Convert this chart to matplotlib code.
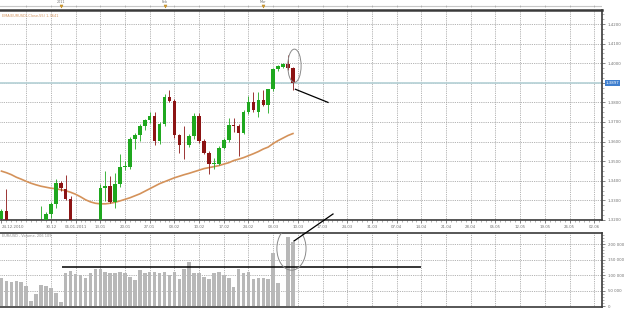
import matplotlib
matplotlib.use("Agg")
import matplotlib.pyplot as plt
from matplotlib.patches import Ellipse
from matplotlib.lines import Line2D
import matplotlib.transforms as mtransforms
import numpy as np

# ---------------- data ----------------
opens = [1.3205, 1.3246, 1.3170, 1.3130, 1.3150, 1.3120, 1.3100, 1.3140, 1.3120, 1.3150,
         1.3231, 1.3282, 1.3390, 1.3359, 1.3308, 1.3170, 1.3080, 1.3000, 1.2950, 1.2960,
         1.3050, 1.3364, 1.3374, 1.3292, 1.3385, 1.3472, 1.3472, 1.3615, 1.3636, 1.3677,
         1.3708, 1.3733, 1.3605, 1.3692, 1.3826, 1.3805, 1.3631, 1.3585, 1.3585, 1.3626,
         1.3733, 1.3605, 1.3544, 1.3487, 1.3487, 1.3569, 1.3610, 1.3687, 1.3682, 1.3646,
         1.3749, 1.3800, 1.3749, 1.3810, 1.3785, 1.3867, 1.3969, 1.3980, 1.3995, 1.3974]
highs = [1.3256, 1.3359, 1.3190, 1.3180, 1.3185, 1.3170, 1.3160, 1.3185, 1.3272, 1.3240,
         1.3290, 1.3410, 1.3400, 1.3431, 1.3320, 1.3190, 1.3110, 1.3030, 1.2990, 1.3080,
         1.3385, 1.3451, 1.3426, 1.3441, 1.3538, 1.3500, 1.3625, 1.3645, 1.3692, 1.3715,
         1.3749, 1.3749, 1.3700, 1.3841, 1.3862, 1.3815, 1.3640, 1.3682, 1.3640, 1.3745,
         1.3745, 1.3615, 1.3550, 1.3518, 1.3575, 1.3620, 1.3718, 1.3718, 1.3692, 1.3760,
         1.3831, 1.3851, 1.3851, 1.3862, 1.3870, 1.3975, 1.3990, 1.4000, 1.4041, 1.3980]
lows = [1.3170, 1.3150, 1.3110, 1.3080, 1.3100, 1.3070, 1.3060, 1.3090, 1.3080, 1.3120,
        1.3210, 1.3262, 1.3350, 1.3300, 1.3140, 1.3050, 1.2980, 1.2900, 1.2870, 1.2930,
        1.3020, 1.3297, 1.3285, 1.3262, 1.3370, 1.3455, 1.3460, 1.3564, 1.3605, 1.3660,
        1.3695, 1.3585, 1.3590, 1.3680, 1.3800, 1.3620, 1.3544, 1.3513, 1.3570, 1.3615,
        1.3595, 1.3535, 1.3436, 1.3462, 1.3480, 1.3560, 1.3600, 1.3651, 1.3528, 1.3640,
        1.3740, 1.3750, 1.3723, 1.3780, 1.3744, 1.3860, 1.3960, 1.3975, 1.3965, 1.3865]
closes = [1.3246, 1.3170, 1.3130, 1.3150, 1.3120, 1.3100, 1.3140, 1.3120, 1.3150, 1.3231,
          1.3282, 1.3390, 1.3364, 1.3308, 1.3170, 1.3080, 1.3000, 1.2950, 1.2960, 1.3050,
          1.3364, 1.3374, 1.3292, 1.3385, 1.3472, 1.3477, 1.3615, 1.3636, 1.3677, 1.3708,
          1.3733, 1.3605, 1.3692, 1.3826, 1.3805, 1.3631, 1.3585, 1.3580, 1.3626, 1.3733,
          1.3605, 1.3544, 1.3487, 1.3490, 1.3569, 1.3610, 1.3687, 1.3682, 1.3646, 1.3749,
          1.3800, 1.3759, 1.3810, 1.3785, 1.3867, 1.3969, 1.3985, 1.3995, 1.3974, 1.3897]
ema55 = [1.3449, 1.3441, 1.3431, 1.3418, 1.3408, 1.3397, 1.3387, 1.3379, 1.3372, 1.3367,
         1.3362, 1.3359, 1.3354, 1.3349, 1.3341, 1.3331, 1.3318, 1.3303, 1.3292, 1.3285,
         1.3282, 1.3282, 1.3285, 1.3290, 1.3297, 1.3305, 1.3313, 1.3323, 1.3333, 1.3346,
         1.3359, 1.3372, 1.3385, 1.3395, 1.3405, 1.3415, 1.3423, 1.3431, 1.3438, 1.3446,
         1.3454, 1.3462, 1.3467, 1.3472, 1.3477, 1.3485, 1.3492, 1.3503, 1.3510, 1.3518,
         1.3528, 1.3538, 1.3549, 1.3562, 1.3572, 1.3590, 1.3605, 1.3618, 1.3631, 1.3641]
volume = [90000, 81000, 77000, 81000, 77000, 65000, 16000, 39000, 68000, 65000,
          58000, 42000, 13000, 106000, 113000, 103000, 100000, 90000, 106000, 119000,
          119000, 110000, 106000, 106000, 110000, 106000, 94000, 84000, 116000, 106000,
          110000, 110000, 106000, 110000, 100000, 110000, 87000, 119000, 142000, 106000,
          106000, 94000, 87000, 106000, 110000, 100000, 90000, 61000, 119000, 106000,
          110000, 87000, 90000, 90000, 87000, 171000, 74000, 0, 223000, 206000]

date_tick_idx = [0, 10, 15, 20, 25, 30, 35, 40, 45, 50, 55, 60, 65, 70, 75, 80,
                 85, 90, 95, 100, 105, 110, 115, 120]
date_tick_labels = ["24.12.2010", "30.12", "06.01.2011", "13.01", "20.01", "27.01", "03.02",
                    "10.02", "17.02", "24.02", "03.03", "10.03", "17.03", "24.03", "31.03",
                    "07.04", "14.04", "21.04", "28.04", "05.05", "12.05", "19.05", "26.05", "02.06"]
period_idx = [12, 33, 53]
period_labels = ["2011", "Feb", "Mar"]
price_ticks = [1.32, 1.33, 1.34, 1.35, 1.36, 1.37, 1.38, 1.39, 1.40, 1.41, 1.42]
vol_ticks = [0, 50000, 100000, 150000, 200000]
last_price = 1.3897
vol_level = 126000
ema_label = "EMA(EURUSD),Close,55) 1,3641"
vol_label = "EUR/USD - Volume, 206 109"

# ---------------- styling ----------------
GREEN = "#1fa81f"
RED = "#8c1414"
GRID = "#9a9a9a"
TXT = "#707070"
FS = 2.8
W, H = 625, 310

fig = plt.figure(figsize=(W / 100, H / 100), dpi=100)
fig.patch.set_facecolor("white")

def fx(px):
    return px / W

def fy(py):
    return 1 - py / H

ax = fig.add_axes([0, fy(220), fx(602), fy(10) - fy(220)])
axv = fig.add_axes([0, fy(307), fx(602), fy(233) - fy(307)])
axt = fig.add_axes([0, fy(10), fx(602), 1 - fy(10)])

n = len(opens)
x = np.arange(n)
xlim = (-0.3, 121.56)

# grid
vgrid = np.arange(5, 122, 5)
for a in (ax, axv):
    a.set_xlim(*xlim)
    for v in vgrid:
        a.axvline(v, color=GRID, lw=0.6, ls=(0, (1, 1.2)), zorder=0)

for p in price_ticks:
    ax.axhline(p, color=GRID, lw=0.6, ls=(0, (1, 1.2)), zorder=0)
for v in vol_ticks[1:]:
    axv.axhline(v, color=GRID, lw=0.6, ls=(0, (1, 1.2)), zorder=0)

# current price line
ax.axhline(last_price, color="#b9d3d8", lw=1.3, zorder=0.5)

# candles
o = np.array(opens); c = np.array(closes); hi = np.array(highs); lo = np.array(lows)
up = c >= o
cols = np.where(up, GREEN, RED)
ax.vlines(x, lo, hi, colors=cols, lw=0.6, zorder=2)
body_h = np.maximum(np.abs(c - o), 0.0004)
ax.bar(x, body_h, bottom=np.minimum(o, c), width=0.72, color=cols, lw=0, zorder=3)

# EMA line
ax.plot(x, ema55, color="#d4925a", lw=1.2, zorder=1.5)

ax.set_ylim(1.31995, 1.42718)

# price axis on right (the 1,3900 label is hidden under the current-price box)
ax.yaxis.tick_right()
ax.set_yticks(price_ticks)
ax.set_yticklabels(["" if abs(p - last_price) < 0.004 else f"{p:.4f}".replace(".", ",")
                    for p in price_ticks])
ax.set_yticks(np.arange(1.3200, 1.4271, 0.0025), minor=True)
ax.tick_params(axis="y", which="major", length=2.5, width=0.5, colors="#555555",
               labelsize=FS, labelcolor=TXT, pad=1.5)
ax.tick_params(axis="y", which="minor", length=1.2, width=0.4, colors="#777777")

# date axis
ax.set_xticks(date_tick_idx)
ax.set_xticklabels(date_tick_labels)
ax.set_xticks(np.arange(0, 122, 1), minor=True)
ax.tick_params(axis="x", which="major", length=2.5, width=0.5, colors="#555555",
               labelsize=FS, labelcolor=TXT, pad=1.2)
ax.tick_params(axis="x", which="minor", length=1.2, width=0.4, colors="#777777")
for lab in ax.get_xticklabels():
    lab.set_ha("center")
ax.get_xticklabels()[0].set_ha("left")

ax.spines["left"].set_visible(False)
ax.spines["top"].set_linewidth(1.8)
ax.spines["top"].set_color("#3a3a3a")
ax.spines["bottom"].set_linewidth(1.2)
ax.spines["bottom"].set_color("#3a3a3a")
ax.spines["right"].set_linewidth(1.2)
ax.spines["right"].set_color("#3a3a3a")

# highlighted current price
trans = mtransforms.blended_transform_factory(ax.transAxes, ax.transData)
ax.text(1.006, last_price, f"{last_price:.4f}".replace(".", ","), transform=trans,
        fontsize=FS, color="white", va="center", ha="left",
        bbox=dict(boxstyle="square,pad=0.25", fc="#3f7fcf", ec="none"), zorder=10,
        clip_on=False)

ax.text(0.004, 0.97, ema_label, transform=ax.transAxes, fontsize=FS - 0.3,
        color="#d4925a", ha="left", va="center")

# volume panel
axv.bar(x, volume, width=0.72, color="#b8b8b8", lw=0, zorder=2)
axv.set_ylim(-3226, 235500)
axv.yaxis.tick_right()
axv.set_yticks(vol_ticks)
axv.set_yticklabels([f"{v:,}".replace(",", " ") for v in vol_ticks])
axv.set_yticks(np.arange(0, 235001, 10000), minor=True)
axv.tick_params(axis="y", which="major", length=2.5, width=0.5, colors="#555555",
                labelsize=FS, labelcolor=TXT, pad=1.5)
axv.tick_params(axis="y", which="minor", length=1.2, width=0.4, colors="#777777")
axv.set_xticks([])
axv.spines["left"].set_visible(False)
for s in ("top", "right", "bottom"):
    axv.spines[s].set_linewidth(1.2)
    axv.spines[s].set_color("#3a3a3a")
axv.hlines(vol_level, 12.2, 85, color="black", lw=1.1, zorder=4)
axv.text(0.004, 0.96, vol_label, transform=axv.transAxes, fontsize=FS - 0.3,
         color="#8a8a8a", ha="left", va="center")

# top period strip
axt.set_xlim(*xlim)
axt.set_ylim(0, 10)
axt.axis("off")
axt.axhline(4, color="#c8c8c8", lw=0.8)
for v in vgrid:
    axt.vlines(v, 3.2, 4.8, color="#9a9a9a", lw=0.4)
for i, lab in zip(period_idx, period_labels):
    axt.plot([i], [4.2], marker="v", ms=2.2, color="#d8a030", mec="#b07a10", mew=0.3)
    axt.text(i, 8.0, lab, fontsize=FS - 0.4, color=TXT, ha="center", va="center")

# annotations (hand-drawn marks)
ax.add_patch(Ellipse((59.3, 1.3987), 2.7, 0.0170, fill=False, ec="#8a8a8a", lw=0.7, zorder=6))
ax.add_line(Line2D([59.5, 66.1], [1.3867, 1.3800], color="black", lw=0.9, zorder=6))
axv.add_patch(Ellipse((58.7, 185000), 5.9, 139000, fill=False, ec="#8a8a8a", lw=0.7, zorder=6))
fig.add_artist(Line2D([fx(294), fx(333)], [fy(241), fy(214)], color="black", lw=0.9))

fig.savefig("out.png", dpi=100, facecolor="white")
